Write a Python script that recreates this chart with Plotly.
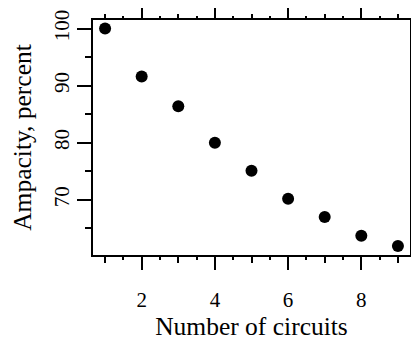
import plotly.graph_objects as go

circuits = [1, 2, 3, 4, 5, 6, 7, 8, 9]
ampacity = [100, 91.6, 86.4, 80, 75.1, 70.2, 67, 63.7, 61.9]

x_major = [2, 4, 6, 8]
x_mid = [1, 3, 5, 7, 9]
x_half = [1.5, 2.5, 3.5, 4.5, 5.5, 6.5, 7.5, 8.5]
y_major = [70, 80, 90, 100]
y_minor = [65, 75, 85, 95]
y_all = [65, 70, 75, 80, 85, 90, 95, 100]

xr = [0.67, 9.33]
yr = [60.33, 101.5]
FONT = "Liberation Serif, Times New Roman, serif"
LW = 1.6

fig = go.Figure()
fig.add_trace(go.Scatter(x=circuits, y=ampacity, mode="markers",
                         marker=dict(color="black", size=12), showlegend=False))
for xa, ya in [("x2", "y"), ("x3", "y"), ("x4", "y"), ("x5", "y"), ("x6", "y"), ("x", "y2"), ("x", "y3")]:
    fig.add_trace(go.Scatter(x=[None], y=[None], xaxis=xa, yaxis=ya, showlegend=False, hoverinfo="skip"))

def xov(vals, side, ln):
    return dict(overlaying="x", side=side, range=xr, tickmode="array", tickvals=vals,
                ticks="outside", ticklen=ln, tickwidth=LW, tickcolor="black", automargin=False,
                showticklabels=False, showline=False, showgrid=False, zeroline=False)

fig.update_layout(
    width=411, height=335,
    margin=dict(l=85, r=9, t=12, b=88),
    paper_bgcolor="white", plot_bgcolor="white",
    font=dict(family=FONT, color="black", size=21),
    xaxis=dict(range=xr, tickmode="array", tickvals=x_major, ticks="outside", ticklen=13,
               tickwidth=LW, tickcolor="black", showline=True, linecolor="black", linewidth=LW,
               mirror=True, showgrid=False, zeroline=False, automargin=False,
               tickfont=dict(size=21, family=FONT), ticklabelstandoff=12,
               title=dict(text="Number of circuits", font=dict(size=25.5, family=FONT), standoff=4)),
    xaxis2=xov(x_mid, "bottom", 7),
    xaxis3=xov(x_half, "bottom", 4),
    xaxis4=xov(x_major, "top", 12),
    xaxis5=xov(x_mid, "top", 5),
    xaxis6=xov(x_half, "top", 3),
    yaxis=dict(range=yr, tickmode="array", tickvals=y_major, ticks="outside", ticklen=14,
               tickwidth=LW, tickcolor="black", showline=True, linecolor="black", linewidth=LW,
               mirror=True, showgrid=False, zeroline=False, tickangle=-90, automargin=False,
               tickfont=dict(size=21, family=FONT),
               title=dict(text="Ampacity, percent", font=dict(size=25.5, family=FONT), standoff=13)),
    yaxis2=dict(overlaying="y", side="left", range=yr, tickmode="array", tickvals=y_minor,
                ticks="outside", ticklen=7, tickwidth=LW, tickcolor="black", automargin=False,
                showticklabels=False, showline=False, showgrid=False, zeroline=False),
    yaxis3=dict(overlaying="y", side="right", range=yr, tickmode="array", tickvals=y_all,
                ticks="outside", ticklen=8, tickwidth=LW, tickcolor="black", automargin=False,
                showticklabels=False, showline=False, showgrid=False, zeroline=False),
)

fig.write_html("out.html")
